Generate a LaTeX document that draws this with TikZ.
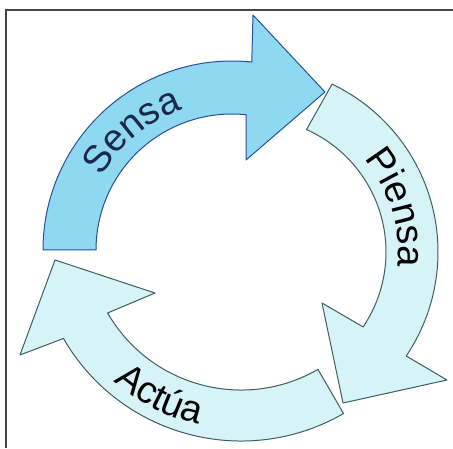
\documentclass[tikz,border=0pt]{standalone}
\usepackage{fontspec}
\setmainfont{Liberation Sans}
\usetikzlibrary{decorations.text}
\definecolor{sensafill}{RGB}{142,216,242}
\definecolor{sensaline}{RGB}{40,80,150}
\definecolor{palefill}{RGB}{214,243,248}
\definecolor{paleline}{RGB}{60,95,95}
\definecolor{sensatext}{RGB}{25,40,75}
\definecolor{framecol}{RGB}{70,70,70}
\begin{document}
\begin{tikzpicture}[x=1pt,y=1pt,
  sensastyle/.style={fill=sensafill,draw=sensaline,line width=1pt,line join=round},
  palestyle/.style={fill=palefill,draw=paleline,line width=1pt,line join=round},
  labeltext/.style={decorate,decoration={text along path,text align=center,text={#1}}}]
\useasboundingbox (0,0) rectangle (453,448);
\draw[framecol,line width=1.2pt] (6,0) -- (6,438) -- (453,438);
\coordinate (cs) at (232,198);
\coordinate (cp) at (252,196);
\coordinate (ca) at (241,212);
% Sensa
\draw[sensastyle] ([shift={(180:189)}]cs) arc[start angle=180,end angle=84,radius=189]
  -- (253,433) -- (325,356) -- (246,288) -- ([shift={(84:136)}]cs)
  arc[start angle=84,end angle=180,radius=136] -- cycle;
% Piensa
\draw[palestyle] ([shift={(64.5:186)}]cp) arc[start angle=64.5,end angle=-34,radius=186]
  -- (447,68) -- (343,45) -- (322,145) -- ([shift={(-34:134)}]cp)
  arc[start angle=-34,end angle=66,radius=134] -- cycle;
% Actua
\draw[palestyle] ([shift={(-60:205)}]ca) arc[start angle=-60,end angle=-150,radius=205]
  -- (20,93) -- (55,188) -- (155,155) -- ([shift={(-150:154)}]ca)
  arc[start angle=-150,end angle=-60,radius=154] -- cycle;
% labels
\path[labeltext={|\fontsize{38}{38}\selectfont\color{sensatext}|Sensa}]
  ([shift={(175:149)}]cs) arc[start angle=175,end angle=85,radius=149];
\path[labeltext={|\fontsize{38}{38}\selectfont|Piensa}]
  ([shift={(62:146)}]cp) arc[start angle=62,end angle=-28,radius=146];
\path[labeltext={|\fontsize{38}{38}\selectfont|Actúa}]
  ([shift={(198:193)}]ca) arc[start angle=198,end angle=288,radius=193];
\end{tikzpicture}
\end{document}
